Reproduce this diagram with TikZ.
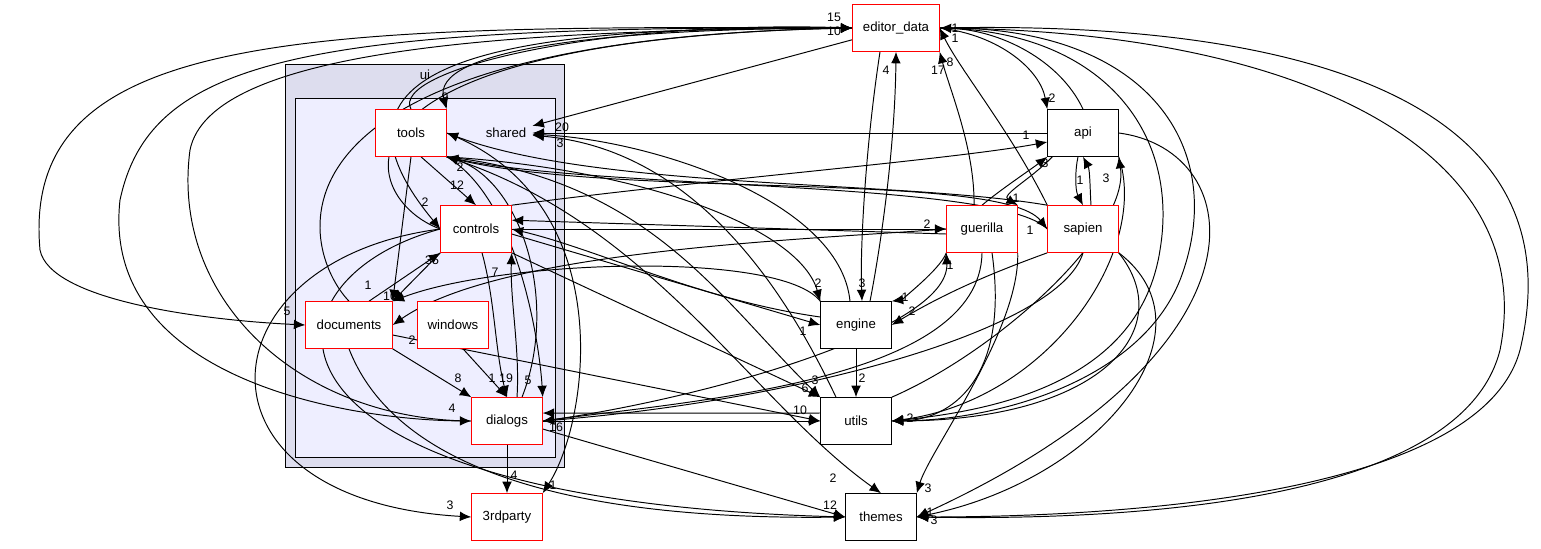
\documentclass[tikz,border=0pt]{standalone}
\usepackage{fontspec}
\setmainfont{Liberation Sans}
\usetikzlibrary{arrows.meta}
\pgfdeclarelayer{bgl}
\pgfdeclarelayer{edl}
\pgfsetlayers{bgl,edl,main}
\begin{document}
\begin{tikzpicture}[x=0.567pt,y=-0.567pt,font=\fontsize{7.5}{9}\selectfont,
  rb/.style={draw=red,fill=white,minimum width=40pt,minimum height=26.5pt,inner sep=1pt,line width=0.5pt},
  bb/.style={draw=black,fill=white,minimum width=40pt,minimum height=26.5pt,inner sep=1pt,line width=0.5pt},
  e/.style={-{Latex[length=6.5pt,width=5.5pt]},line width=0.55pt},
  lab/.style={inner sep=0pt,font=\fontsize{7}{8}\selectfont}]
\useasboundingbox (0,0) rectangle (1541,548);
\begin{pgfonlayer}{bgl}
\fill[white] (0,0) rectangle (1541,548);
\node[draw,fill={rgb,255:red,221;green,221;blue,238},minimum width=158pt,minimum height=228.5pt,inner sep=0pt] (ui) at (425,265.5) {};
\node (uil) at (425,75) {ui};
\node[draw,fill={rgb,255:red,238;green,238;blue,255},minimum width=147.4pt,minimum height=203.5pt,inner sep=0pt] (shc) at (425,277.5) {};
\end{pgfonlayer}
\node (sh) at (506,133) {shared};
\node[rb,minimum width=49pt] (ed) at (896,28) {editor\_data};
\node[rb] (tools) at (411,133) {tools};
\node[rb] (ctl) at (476,229) {controls};
\node[rb,minimum width=49pt] (doc) at (349,325) {documents};
\node[rb] (win) at (453,325) {windows};
\node[rb] (dlg) at (507,421) {dialogs};
\node[rb] (tp) at (507,517) {3rdparty};
\node[bb] (api) at (1083,133) {api};
\node[rb] (gue) at (982,229) {guerilla};
\node[rb] (sap) at (1083,229) {sapien};
\node[bb] (eng) at (856,325) {engine};
\node[bb] (ut) at (856,421) {utils};
\node[bb] (th) at (881,517) {themes};

\begin{pgfonlayer}{edl}
% editor_data edges
\draw[e] (ed) -- (sh);
\draw[e] (ed.west) .. controls (600,28) and (430,50) .. (tools.north east);
\draw[e] (tools.north) .. controls (390,70) and (600,20) .. (ed.west);
\draw[e] (ed.west) .. controls (500,25) and (300,60) .. (ctl.west);
\draw[e] (ctl.west) .. controls (360,200) and (300,40) .. (ed.west);
\draw[e] (doc.north) .. controls (300,250) and (240,40) .. (ed.west);
\draw[e] (ed.west) .. controls (300,25) and (20,30) .. (40,250) .. controls (50,300) and (200,320) .. (doc.west);
\draw[e] (dlg.west) .. controls (300,420) and (170,300) .. (190,150) .. controls (210,50) and (500,30) .. (ed.west);
\draw[e] (ed.west) .. controls (300,25) and (150,60) .. (120,200) .. controls (100,380) and (350,420) .. (dlg.west);
\draw[e] (ed.south) ++(-16,0) .. controls (865,150) and (860,250) .. (eng.north west -| 862,0);
\draw[e] (eng.north) ++(14,0) .. controls (880,250) and (895,150) .. (ed.south);
\draw[e] (gue.north) ++(-8,0) .. controls (975,150) and (950,90) .. (ed.south east);
\draw[e] (sap.north west) .. controls (1010,130) and (960,70) .. (ed.east);
\draw[e] (api.north) .. controls (1060,60) and (1000,30) .. (ed.east);
\draw[e] (ed.east) .. controls (1000,35) and (1040,70) .. (api.north west);
\draw[e] (ed.east) .. controls (1100,30) and (1180,130) .. (1160,250) .. controls (1140,380) and (1000,410) .. (ut.east);
\draw[e] (ed.east) .. controls (1150,25) and (1230,150) .. (1180,280) .. controls (1140,380) and (1000,420) .. (ut.east);
\draw[e] (ed.east) .. controls (1300,20) and (1580,100) .. (1520,350) .. controls (1480,500) and (1100,517) .. (th.east);
\draw[e] (ed.east) .. controls (1300,30) and (1540,150) .. (1500,350) .. controls (1460,510) and (1100,520) .. (th.east);
% api
\draw[e] (api.west) -- (sh);
\draw[e] (api.east) .. controls (1250,150) and (1280,350) .. (th.east);
\draw[e] (ctl.north east) .. controls (700,180) and (950,160) .. (api.west |- 0,142);
\draw[e] (gue.north) .. controls (1000,190) and (1030,170) .. (api.south west);
\draw[e] (api.south west) ++(5,0) .. controls (1030,180) and (1000,195) .. (gue.north east);
\draw[e] (api.south) ++(-5,0) .. controls (1075,170) and (1075,190) .. (sap.north);
\draw[e] (sap.north) ++(8,0) .. controls (1090,190) and (1090,170) .. (api.south);
\draw[e] (api.south east) .. controls (1150,250) and (1050,400) .. (ut.east);
\draw[e] (ut.north east) .. controls (1000,350) and (1130,230) .. (api.south east);
% sapien
\draw[e] (sap.west) .. controls (1000,180) and (600,190) .. (tools.south east);
\draw[e] (tools.south east) .. controls (600,200) and (1000,170) .. (sap.west);
\draw[e] (sap.north west) .. controls (900,180) and (600,190) .. (tools.east);
\draw[e] (sap.south west) .. controls (1000,270) and (950,290) .. (eng.east);
\draw[e] (sap.south) .. controls (1060,330) and (800,400) .. (dlg.east);
\draw[e] (sap.south east) .. controls (1180,330) and (1100,420) .. (ut.east);
\draw[e] (sap.south east) .. controls (1220,330) and (1100,480) .. (th.east);
% guerilla
\draw[e] (ctl.east) -- (gue.west);
\draw[e] (gue.west) ++(0,5) -- ([yshift=5pt]ctl.east);
\draw[e] (gue.west) .. controls (800,240) and (500,250) .. (doc.east);
\draw[e] (gue.south west) .. controls (940,270) and (900,300) .. (eng.north east);
\draw[e] (gue.south) .. controls (980,380) and (700,400) .. (dlg.east);
\draw[e] (dlg.east) .. controls (700,400) and (950,330) .. (gue.south west);
\draw[e] (gue.south) ++(10,0) .. controls (1010,380) and (950,420) .. (ut.east);
\draw[e] (gue.south east) .. controls (1020,330) and (930,450) .. (th.north east);
% tools
\draw[e] (tools.south) ++(10,0) -- (ctl.north);
\draw[e] (tools.south) -- (doc.north east);
\draw[e] (tools.south east) .. controls (520,200) and (540,350) .. (dlg.north east);
\draw[e] (dlg.north) ++(15,0) .. controls (560,300) and (520,180) .. (tools.south east);
\draw[e] (tools.east) .. controls (620,200) and (590,420) .. (tp.north east);
\draw[e] (tools.south east) .. controls (650,220) and (750,400) .. (th.north);
\draw[e] (tools.south east) .. controls (650,170) and (800,230) .. (eng.north west);
\draw[e] (tools.south east) .. controls (650,180) and (720,300) .. (ut.north west);
\draw[e] (eng.north) ++(-6,0) .. controls (840,200) and (650,140) .. (sh);
\draw[e] (ut.north) ++(-20,0) .. controls (790,300) and (700,150) .. (sh);
% controls
\draw[e] (ctl.south west) -- (doc.north east);
\draw[e] (doc.north) ++(20,0) -- (ctl.south west);
\draw[e] (ctl.south) ++(6,0) .. controls (495,300) and (495,350) .. (dlg.north);
\draw[e] (dlg.north) ++(10,0) .. controls (520,350) and (510,300) .. (ctl.south east);
\draw[e] (ctl.east) ++(0,5) -- (eng.west);
\draw[e] (eng.west) ++(0,-8) .. controls (700,300) and (600,250) .. (ctl.east);
\draw[e] (ctl.south east) -- (ut.north west);
\draw[e] (ctl.west) .. controls (200,260) and (180,500) .. (tp.west);
\draw[e] (ctl.west) .. controls (250,280) and (230,500) .. (th.west);
% documents
\draw[e] (doc.south east) -- (dlg.north west);
\draw[e] (doc.east) ++(0,10) -- (ut.west);
\draw[e] (doc.south) .. controls (400,480) and (600,520) .. (th.west);
\draw[e] (eng.north west) .. controls (780,250) and (500,260) .. (doc.north east);
\draw[e] (win.south) ++(10,0) -- (dlg.north);
% dialogs
\draw[e] (dlg.south) -- (tp.north);
\draw[e] (dlg.east) ++(0,8) -- (th.west);
\draw[e] (dlg.east) -- (ut.west);
\draw[e] (ut.west) ++(0,-8) -- ([yshift=4.5pt]dlg.east);
\draw[e] (eng.south) -- (ut.north);
\end{pgfonlayer}

% labels
\node[lab] (l1) at (562,127) {20};
\node[lab] (l2) at (445,97) {9};
\node[lab] (l3) at (834,17) {15};
\node[lab] (l4) at (834,31) {10};
\node[lab] (l5) at (425,202) {2};
\node[lab] (l6) at (287,311) {5};
\node[lab] (l7) at (452,408) {4};
\node[lab] (l8) at (862,283) {3};
\node[lab] (l9) at (886,70) {4};
\node[lab] (l10) at (938,70) {17};
\node[lab] (l11) at (950,62) {8};
\node[lab] (l12) at (955,38) {1};
\node[lab] (l13) at (1052,98) {2};
\node[lab] (l14) at (1026,135) {1};
\node[lab] (l15) at (1045,163) {3};
\node[lab] (l16) at (1016,198) {1};
\node[lab] (l17) at (1080,180) {1};
\node[lab] (l18) at (1106,178) {3};
\node[lab] (l19) at (1030,230) {1};
\node[lab] (l20) at (927,224) {2};
\node[lab] (l21) at (412,340) {2};
\node[lab] (l22) at (390,296) {10};
\node[lab] (l23) at (432,260) {35};
\node[lab] (l24) at (457,185) {12};
\node[lab] (l25) at (368,285) {1};
\node[lab] (l26) at (495,272) {7};
\node[lab] (l27) at (492,378) {1};
\node[lab] (l28) at (506,378) {19};
\node[lab] (l29) at (528,380) {5};
\node[lab] (l30) at (458,378) {8};
\node[lab] (l31) at (818,283) {2};
\node[lab] (l32) at (803,331) {1};
\node[lab] (l33) at (905,297) {1};
\node[lab] (l34) at (912,311) {2};
\node[lab] (l35) at (950,265) {1};
\node[lab] (l36) at (815,380) {3};
\node[lab] (l37) at (805,388) {6};
\node[lab] (l38) at (800,410) {10};
\node[lab] (l39) at (862,378) {2};
\node[lab] (l40) at (553,485) {1};
\node[lab] (l41) at (833,478) {2};
\node[lab] (l42) at (450,505) {3};
\node[lab] (l43) at (514,475) {4};
\node[lab] (l44) at (928,488) {3};
\node[lab] (l45) at (830,505) {12};
\node[lab] (l46) at (930,512) {1};
\node[lab] (l47) at (934,520) {3};
\node[lab] (l48) at (910,418) {2};
\node[lab] (l49) at (955,28) {1};
\node[lab] (l50) at (560,143) {3};
\node[lab] (l51) at (460,167) {2};
\node[lab] (l52) at (556,427) {16};
\end{tikzpicture}
\end{document}
